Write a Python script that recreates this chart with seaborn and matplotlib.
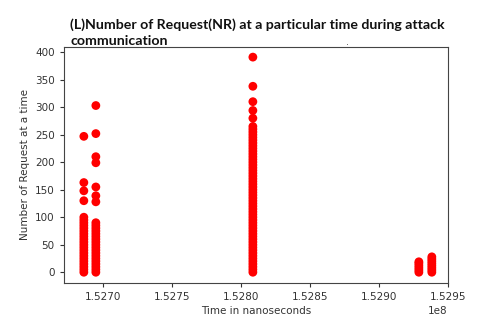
import matplotlib
matplotlib.use("Agg")
import matplotlib.pyplot as plt
import seaborn as sns
import pandas as pd

# Time stamps (x, in units of 1e8 ns) of each column of points
col_times = [1.526862e8, 1.526949e8, 1.528087e8, 1.529290e8, 1.529384e8]

# Number-of-request values observed in each column
col_a = [0, 5, 10, 15, 20, 25, 30, 35, 40, 45, 50, 55, 60, 65, 70, 75, 80, 85, 90, 95, 100,
         130, 148, 163, 247]
col_b = [0, 5, 10, 15, 20, 25, 30, 35, 40, 45, 50, 55, 60, 65, 70, 75, 80, 85, 90,
         128, 139, 155, 199, 210, 252, 303]
col_c = [0, 5, 10, 15, 20, 25, 30, 35, 40, 45, 50, 55, 60, 65, 70, 75, 80, 85, 90, 95,
         100, 105, 110, 115, 120, 125, 130, 135, 140, 145, 150, 155, 160, 165, 170, 175,
         180, 185, 190, 195, 200, 205, 210, 215, 220, 225, 230, 235, 240, 245, 250, 255,
         260, 265, 280, 294, 310, 338, 391]
col_d = [0, 4, 8, 12, 16, 19]
col_e = [0, 4, 8, 12, 16, 20, 24, 28]

title_lines = ["(L)Number of Request(NR) at a particular time during attack",
               "communication"]

columns = [col_a, col_b, col_c, col_d, col_e]
xs, ys = [], []
for t, vals in zip(col_times, columns):
    xs += [t] * len(vals)
    ys += vals
df = pd.DataFrame({"time": xs, "requests": ys})

sns.set_style("white")
plt.rcParams["font.family"] = ["DejaVu Sans"]

fig = plt.figure(figsize=(4.8, 3.26), dpi=100)
ax = fig.add_axes([0.133, 0.132, 0.8, 0.724])
sns.scatterplot(data=df, x="time", y="requests", ax=ax, color="red",
                edgecolor="none", s=40, linewidth=0)

ax.set_xlim(1.526717e8, 1.5295e8)
ax.set_ylim(-19.5, 409.5)
ax.set_xticks([1.5270e8, 1.5275e8, 1.5280e8, 1.5285e8, 1.5290e8, 1.5295e8])
ax.set_yticks([0, 50, 100, 150, 200, 250, 300, 350, 400])
ax.tick_params(axis="both", labelsize=7.5, colors="#333333", length=3, width=0.8,
               bottom=True, left=True)
ax.xaxis.get_offset_text().set_fontsize(7.5)
ax.xaxis.get_offset_text().set_color("#333333")
for sp in ax.spines.values():
    sp.set_color("#444444")
    sp.set_linewidth(0.8)
ax.set_xlabel("Time in nanoseconds", fontsize=7.5, color="#333333", labelpad=3)
ax.set_ylabel("Number of Request at a time", fontsize=7.5, color="#333333", labelpad=4)

fig.text(0.146, 0.912, title_lines[0], fontsize=10.2, fontweight="bold",
         family="Lato", va="baseline", ha="left", color="#111111")
fig.text(0.146, 0.862, title_lines[1], fontsize=10.2, fontweight="bold",
         family="Lato", va="baseline", ha="left", color="#111111")
fig.text(0.72, 0.862, ".", fontsize=7, color="#555555")

fig.savefig("out.png", dpi=100)
